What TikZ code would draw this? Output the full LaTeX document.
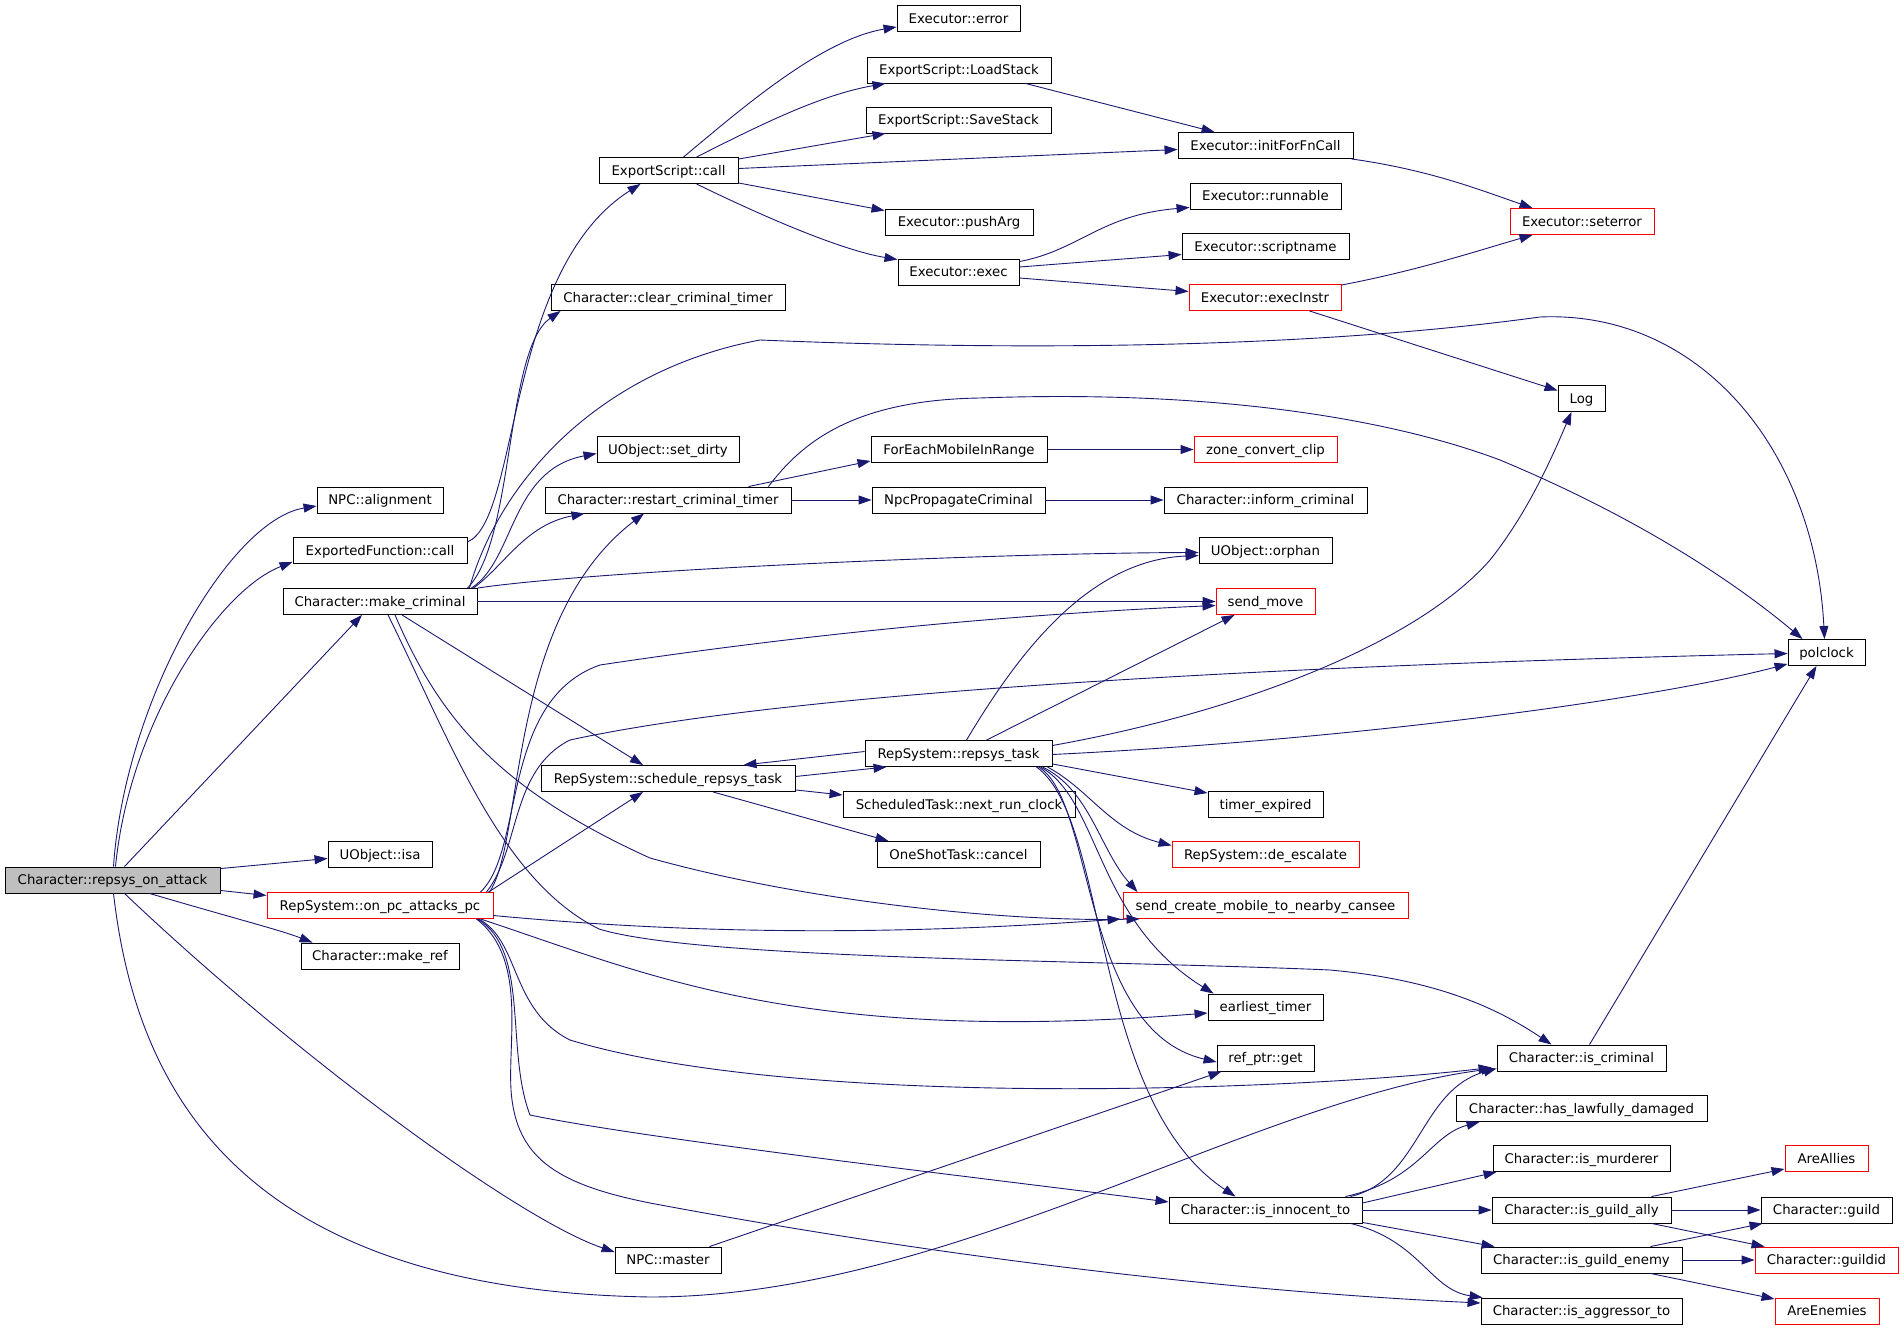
\documentclass[tikz,border=0pt]{standalone}
\usepackage{fontspec}
\setmainfont{DejaVu Sans}
\usetikzlibrary{calc,arrows.meta}
\definecolor{edgecol}{HTML}{191970}
\definecolor{rootfill}{HTML}{BFBFBF}
\tikzset{
  nd/.style={draw=black, line width=0.9pt, rectangle, inner sep=0pt, minimum height=26pt,
    text height=9.7pt, text depth=0pt, font=\fontsize{13.3pt}{16pt}\selectfont, anchor=center},
  rd/.style={nd, draw=red},
  rootnd/.style={nd, fill=rootfill},
  ed/.style={draw=edgecol, line width=0.9pt, -{Triangle[length=13pt,width=9pt]}}
}
\begin{document}
\begin{tikzpicture}[x=1pt,y=-1pt]
\useasboundingbox (0,0) rectangle (1904,1329);
% column 0
\node[rootnd, minimum width=215pt] (rsoa) at (112.5,880) {Character::repsys\_on\_attack};
% column 1
\node[nd, minimum width=126pt] (npcal) at (380,500) {NPC::alignment};
\node[nd, minimum width=174pt] (efcall) at (380,550.5) {ExportedFunction::call};
\node[nd, minimum width=194pt] (mkcrim) at (380,601.5) {Character::make\_criminal};
\node[nd, minimum width=104pt] (isa) at (380,854.5) {UObject::isa};
\node[rd, minimum width=226pt] (onpc) at (380,905.5) {RepSystem::on\_pc\_attacks\_pc};
\node[nd, minimum width=158pt] (mkref) at (380,956) {Character::make\_ref};
% column 2
\node[nd, minimum width=139pt] (escall) at (668.5,170.5) {ExportScript::call};
\node[nd, minimum width=234pt] (clear) at (668,297.5) {Character::clear\_criminal\_timer};
\node[nd, minimum width=142pt] (setdirty) at (668,449.5) {UObject::set\_dirty};
\node[nd, minimum width=246pt] (restart) at (668,500) {Character::restart\_criminal\_timer};
\node[nd, minimum width=254pt] (sched) at (668,778.5) {RepSystem::schedule\_repsys\_task};
\node[nd, minimum width=106pt] (npcmaster) at (668,1260) {NPC::master};
% column 3
\node[nd, minimum width=123pt] (error) at (958.5,18.5) {Executor::error};
\node[nd, minimum width=184pt] (load) at (959,70) {ExportScript::LoadStack};
\node[nd, minimum width=185pt] (save) at (958.5,120) {ExportScript::SaveStack};
\node[nd, minimum width=148pt] (push) at (959,222) {Executor::pushArg};
\node[nd, minimum width=121pt] (exec) at (958.5,272) {Executor::exec};
\node[nd, minimum width=176pt] (foreach) at (959,449.5) {ForEachMobileInRange};
\node[nd, minimum width=173pt] (npcprop) at (958.5,500) {NpcPropagateCriminal};
\node[nd, minimum width=187pt] (repsys) at (958.5,753.5) {RepSystem::repsys\_task};
\node[nd, minimum width=232pt] (nextrun) at (959,804.5) {ScheduledTask::next\_run\_clock};
\node[nd, minimum width=163pt] (cancel) at (958.5,854.5) {OneShotTask::cancel};
% column 4
\node[nd, minimum width=175pt] (initfn) at (1265.5,145.5) {Executor::initForFnCall};
\node[nd, minimum width=151pt] (runnable) at (1265.5,196) {Executor::runnable};
\node[nd, minimum width=167pt] (scriptname) at (1265.5,246.5) {Executor::scriptname};
\node[rd, minimum width=152pt] (execinstr) at (1265,297.5) {Executor::execInstr};
\node[rd, minimum width=143pt] (zone) at (1265.5,449.5) {zone\_convert\_clip};
\node[nd, minimum width=203pt] (inform) at (1265.5,500) {Character::inform\_criminal};
\node[nd, minimum width=133pt] (orphan) at (1265.5,550.5) {UObject::orphan};
\node[rd, minimum width=99pt] (sendmove) at (1265.5,601.5) {send\_move};
\node[nd, minimum width=115pt] (timerexp) at (1265.5,804.5) {timer\_expired};
\node[rd, minimum width=187pt] (deesc) at (1265.5,854.5) {RepSystem::de\_escalate};
\node[rd, minimum width=285pt] (sendcreate) at (1265.5,905.5) {send\_create\_mobile\_to\_nearby\_cansee};
\node[nd, minimum width=115pt] (earliest) at (1265.5,1007) {earliest\_timer};
\node[nd, minimum width=97pt] (refget) at (1265.5,1058) {ref\_ptr::get};
\node[nd, minimum width=193pt] (innocent) at (1265.5,1210) {Character::is\_innocent\_to};
% column 5
\node[rd, minimum width=144pt] (seterror) at (1582,221.5) {Executor::seterror};
\node[nd, minimum width=47pt] (log) at (1581.5,398.5) {Log};
\node[nd, minimum width=169pt] (iscrim) at (1581.5,1058) {Character::is\_criminal};
\node[nd, minimum width=251pt] (haslaw) at (1581.5,1108.5) {Character::has\_lawfully\_damaged};
\node[nd, minimum width=177pt] (murder) at (1581.5,1158.5) {Character::is\_murderer};
\node[nd, minimum width=179pt] (gally) at (1581.5,1210) {Character::is\_guild\_ally};
\node[nd, minimum width=201pt] (genemy) at (1581.5,1260) {Character::is\_guild\_enemy};
\node[nd, minimum width=201pt] (aggr) at (1581.5,1311) {Character::is\_aggressor\_to};
% column 6
\node[nd, minimum width=77pt] (polclock) at (1826.5,652.5) {polclock};
\node[rd, minimum width=83pt] (allies) at (1826.5,1158.5) {AreAllies};
\node[nd, minimum width=131pt] (guild) at (1826.5,1210) {Character::guild};
\node[rd, minimum width=143pt] (guildid) at (1826.5,1260) {Character::guildid};
\node[rd, minimum width=104pt] (enemies) at (1827,1311) {AreEnemies};

% ---- edges from repsys_on_attack
\draw[ed] ($(rsoa.north)+(1,0)$) .. controls (125,700) and (230,520) .. ($(npcal.west)+(0,6)$);
\draw[ed] ($(rsoa.north)+(3,0)$) .. controls (130,720) and (220,590) .. ($(efcall.south west)+(0,-2)$);
\draw[ed] ($(rsoa.north)+(12,0)$) -- ($(mkcrim.south)+(-18,0)$);
\draw[ed] ($(rsoa.north east)+(0,2)$) -- ($(isa.west)+(0,4)$);
\draw[ed] ($(rsoa.south east)+(0,-3)$) -- ($(onpc.west)+(0,-10)$);
\draw[ed] ($(rsoa.south)+(37,0)$) .. controls (240,920) and (280,930) .. ($(mkref.north west)+(12,0)$);
\draw[ed] ($(rsoa.south)+(12,0)$) .. controls (300,1060) and (520,1220) .. ($(npcmaster.west)+(0,-8)$);
\draw[ed] ($(rsoa.south)+(1,0)$) .. controls (135,1080) and (230,1290) .. (650,1297)
  .. controls (950,1297) and (1250,1100) .. ($(iscrim.south west)+(-2,-3)$);
% ---- ExportedFunction::call
\draw[ed] ($(efcall.east)+(0,-8.5)$) .. controls (520,520) and (505,270) .. ($(escall.south)+(-28,0)$);
% ---- make_criminal
\draw[ed] ($(mkcrim.north east)+(-10,0)$) .. controls (515,540) and (505,350) .. ($(clear.south west)+(10,0)$);
\draw[ed] ($(mkcrim.north east)+(-6,0)$) .. controls (515,560) and (510,470) .. ($(setdirty.west)+(0,4)$);
\draw[ed] ($(mkcrim.north east)+(-4,0)$) .. controls (505,565) and (525,525) .. ($(restart.south west)+(40,0)$);
\draw[ed] ($(mkcrim.north east)+(-8,0)$) .. controls (500,480) and (600,370) .. (760,340)
  .. controls (1000,350) and (1300,350) .. (1540,317)
  .. controls (1700,310) and (1815,450) .. ($(polclock.north)+(-2,0)$);
\draw[ed] (mkcrim.north east) .. controls (600,570) and (1000,553) .. ($(orphan.west)+(0,2)$);
\draw[ed] (mkcrim.east) -- (sendmove.west);
\draw[ed] ($(mkcrim.south)+(22,0)$) -- ($(sched.north)+(-25,0)$);
\draw[ed] ($(mkcrim.south)+(15,0)$) .. controls (440,720) and (500,790) .. (650,858)
  .. controls (800,900) and (1000,922) .. ($(sendcreate.south west)+(17,0)$);
\draw[ed] ($(mkcrim.south)+(8,0)$) .. controls (450,740) and (500,880) .. (599,929)
  .. controls (700,960) and (1100,960) .. (1330,970)
  .. controls (1440,980) and (1500,1010) .. ($(iscrim.north)+(-30,0)$);
% ---- ExportScript::call
\draw[ed] ($(escall.north)+(15,0)$) .. controls (740,110) and (820,40) .. ($(error.south west)+(0,-5)$);
\draw[ed] ($(escall.north)+(28,0)$) .. controls (760,125) and (820,95) .. ($(load.south west)+(19,0)$);
\draw[ed] ($(escall.north east)+(0,2)$) -- ($(save.south west)+(20,0)$);
\draw[ed] ($(escall.east)+(0,-2)$) -- ($(initfn.west)+(0,4)$);
\draw[ed] ($(escall.south east)+(0,-1)$) -- ($(push.north west)+(0,2)$);
\draw[ed] ($(escall.south)+(28,0)$) .. controls (760,215) and (840,250) .. ($(exec.north west)+(0,1)$);
% ---- Executor::exec
\draw[ed] ($(exec.north east)+(0,3)$) .. controls (1080,250) and (1100,215) .. ($(runnable.south west)+(0,-2)$);
\draw[ed] ($(exec.east)+(0,-5)$) -- ($(scriptname.west)+(0,8)$);
\draw[ed] ($(exec.east)+(0,6)$) -- ($(execinstr.west)+(0,-6)$);
% ---- others top
\draw[ed] ($(load.south east)+(-26,0)$) -- ($(initfn.north west)+(37,0)$);
\draw[ed] ($(initfn.south east)+(-2,0)$) .. controls (1430,170) and (1480,190) .. ($(seterror.north west)+(23,0)$);
\draw[ed] ($(execinstr.north east)+(0,1)$) .. controls (1420,270) and (1480,250) .. ($(seterror.south west)+(23,0)$);
\draw[ed] ($(execinstr.south east)+(-32,0)$) -- ($(log.west)+(0,-8)$);
\draw[ed] (foreach) -- (zone);
% ---- restart_criminal_timer
\draw[ed] ($(restart.north east)+(-43,0)$) -- ($(foreach.south west)+(0,-2)$);
\draw[ed] (restart) -- (npcprop);
\draw[ed] ($(restart.north east)+(-23,0)$) .. controls (800,445) and (850,400) .. (980,398)
  .. controls (1200,390) and (1380,415) .. (1500,460)
  .. controls (1620,510) and (1720,570) .. ($(polclock.north west)+(15,0)$);
\draw[ed] (npcprop) -- (inform);
% ---- schedule / repsys
\draw[ed] ($(repsys.west)+(0,-2)$) -- ($(sched.north east)+(-52,0)$);
\draw[ed] ($(sched.east)+(0,-2)$) -- ($(repsys.south west)+(22,0)$);
\draw[ed] ($(sched.south east)+(0,-2)$) -- ($(nextrun.west)+(0,-9.5)$);
\draw[ed] ($(sched.south)+(45,0)$) -- ($(cancel.north west)+(12,0)$);
\draw[ed] ($(repsys.north west)+(102,0)$) .. controls (1020,650) and (1090,560) .. ($(orphan.west)+(0,5)$);
\draw[ed] ($(repsys.north west)+(122,0)$) -- ($(sendmove.south west)+(19,0)$);
\draw[ed] ($(repsys.east)+(0,-8)$) .. controls (1250,710) and (1420,640) .. (1490,560)
  .. controls (1530,510) and (1555,450) .. ($(log.south)+(-10,0)$);
\draw[ed] ($(repsys.east)+(0,1)$) .. controls (1350,740) and (1650,700) .. ($(polclock.south west)+(0,-2)$);
\draw[ed] ($(repsys.south east)+(0,-3)$) -- ($(timerexp.north west)+(0,2)$);
\draw[ed] ($(repsys.south east)+(-5,0)$) .. controls (1090,790) and (1110,830) .. ($(deesc.west)+(0,-9)$);
\draw[ed] ($(repsys.south east)+(-10,0)$) .. controls (1090,790) and (1100,850) .. ($(sendcreate.north west)+(15,0)$);
\draw[ed] ($(repsys.south east)+(-12,0)$) .. controls (1100,800) and (1095,920) .. ($(earliest.north west)+(6,0)$);
\draw[ed] ($(repsys.south east)+(-14,0)$) .. controls (1095,800) and (1080,1030) .. ($(refget.west)+(0,4)$);
\draw[ed] ($(repsys.south east)+(-16,0)$) .. controls (1110,820) and (1090,1100) .. ($(innocent.north)+(-30,0)$);
% ---- on_pc_attacks_pc
\draw[ed] ($(onpc.north east)+(-4,0)$) .. controls (525,840) and (505,620) .. ($(restart.south)+(-24,0)$);
\draw[ed] ($(onpc.north east)+(-13,0)$) .. controls (525,850) and (500,700) .. (600,665)
  .. controls (800,635) and (1000,615) .. ($(sendmove.west)+(0,4)$);
\draw[ed] ($(onpc.north east)+(-7,0)$) .. controls (520,850) and (510,770) .. (570,740)
  .. controls (800,690) and (1300,665) .. ($(polclock.west)+(0,1)$);
\draw[ed] ($(onpc.north east)+(-5,0)$) -- ($(sched.south)+(-25,0)$);
\draw[ed] ($(onpc.east)+(0,10)$) .. controls (700,935) and (900,935) .. ($(sendcreate.south west)+(-2,0)$);
\draw[ed] ($(onpc.south east)+(-13,0)$) .. controls (650,975) and (800,1045) .. ($(earliest.west)+(0,6)$);
\draw[ed] ($(onpc.south east)+(-15,0)$) .. controls (520,940) and (510,1010) .. (570,1040)
  .. controls (800,1110) and (1300,1090) .. ($(iscrim.south west)+(-5,-4)$);
\draw[ed] ($(onpc.south east)+(-16,0)$) .. controls (530,950) and (505,1050) .. (530,1115)
  .. controls (650,1140) and (1000,1180) .. ($(innocent.west)+(0,-8)$);
\draw[ed] ($(onpc.south east)+(-17,0)$) .. controls (530,960) and (505,1050) .. (512,1100)
  .. controls (520,1160) and (560,1185) .. (650,1203)
  .. controls (900,1250) and (1200,1290) .. ($(aggr.west)+(0,-8)$);
% ---- NPC::master
\draw[ed] ($(npcmaster.north east)+(-12,0)$) -- ($(refget.south west)+(5,0)$);
% ---- is_innocent_to
\draw[ed] ($(innocent.north east)+(-12,0)$) .. controls (1420,1180) and (1420,1090) .. ($(iscrim.south west)+(0,-3)$);
\draw[ed] ($(innocent.north east)+(-17,0)$) .. controls (1420,1180) and (1430,1135) .. ($(haslaw.south west)+(24,0)$);
\draw[ed] ($(innocent.east)+(0,-7)$) -- ($(murder.south west)+(4,0)$);
\draw[ed] (innocent) -- (gally);
\draw[ed] ($(innocent.south east)+(0,-1)$) -- ($(genemy.north west)+(14,0)$);
\draw[ed] ($(innocent.south east)+(-12,0)$) .. controls (1420,1240) and (1430,1290) .. ($(aggr.north west)+(2,0)$);
% ---- right side
\draw[ed] ($(iscrim.north)+(8,0)$) -- ($(polclock.south)+(-10,0)$);
\draw[ed] ($(gally.north east)+(-20,0)$) -- ($(allies.south west)+(0,-3)$);
\draw[ed] (gally) -- (guild);
\draw[ed] ($(gally.south east)+(-20,0)$) -- ($(guildid.north west)+(10,0)$);
\draw[ed] ($(genemy.north east)+(-32,0)$) -- ($(guild.south west)+(2,0)$);
\draw[ed] (genemy) -- (guildid);
\draw[ed] ($(genemy.south east)+(-32,0)$) -- ($(enemies.west)+(0,-12)$);
\end{tikzpicture}
\end{document}
